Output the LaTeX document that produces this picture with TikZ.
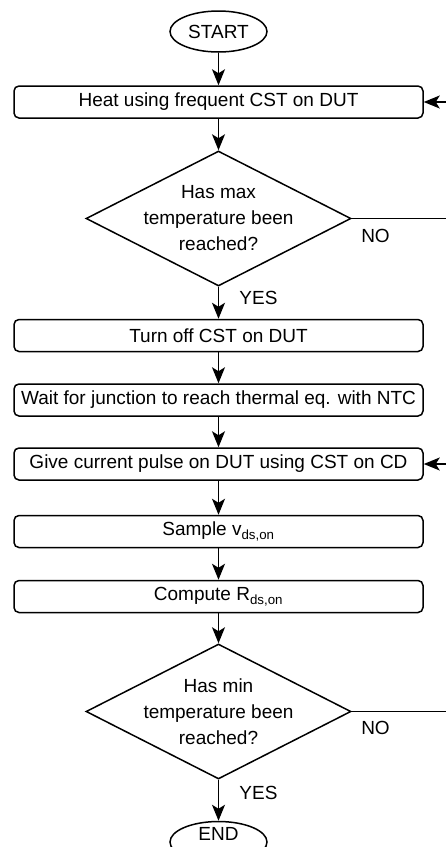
\documentclass[tikz,border=0pt]{standalone}
\usepackage{fontspec}
\setmainfont{Liberation Sans}
\usetikzlibrary{shapes.geometric,arrows.meta}
\begin{document}
\begin{tikzpicture}[x=1pt,y=-1pt,
  every node/.style={font=\fontsize{19}{26}\selectfont},
  line width=1.5pt,
  term/.style={draw,ellipse,minimum width=97pt,minimum height=41pt,inner sep=0pt},
  proc/.style={draw,rectangle,rounded corners=5pt,minimum width=409pt,minimum height=32pt,inner sep=0pt},
  dec/.style={draw,diamond,minimum width=265pt,minimum height=135pt,inner sep=0pt},
  lbl/.style={inner sep=0pt},
  flow/.style={-{Stealth[length=16pt,width=13pt,inset=4pt]}}]
\useasboundingbox (0,0) rectangle (446,847);
\clip (0,0) rectangle (446,847);
\fill[white] (0,0) rectangle (446,847);
\node[term] (start) at (218.5,31.5) {START};
\node[proc] (heat) at (218.5,102) {Heat using frequent CST on DUT};
\node[dec,label={[align=center,inner sep=0pt]center:Has max\\temperature been\\reached?}] (d1) at (218.5,218.5) {};
\node[proc] (off) at (218.5,335.5) {Turn off CST on DUT};
\node[proc] (wait) at (218.5,400) {Wait for junction to reach thermal eq. with NTC};
\node[proc] (pulse) at (218.5,464) {Give current pulse on DUT using CST on CD};
\node[proc] (sample) at (218.5,531.5) {Sample v\textsubscript{ds,on}};
\node[proc] (comp) at (218.5,596.5) {Compute R\textsubscript{ds,on}};
\node[dec,label={[align=center,inner sep=0pt]center:Has min\\temperature been\\reached?}] (d2) at (218.5,711.5) {};
\node[term,label={[inner sep=0pt,yshift=8.5pt]center:END}] (end) at (218.5,842) {};
\node[lbl] (no1) at (375.5,236) {NO};
\node[lbl] (yes1) at (258.5,298) {YES};
\node[lbl] (no2) at (375.5,728) {NO};
\node[lbl] (yes2) at (258.5,793) {YES};
\coordinate (r1a) at (470,218.5);
\coordinate (r1b) at (470,102);
\coordinate (r2a) at (470,711.5);
\coordinate (r2b) at (470,464);
\draw[flow] (start) -- (heat);
\draw[flow] (heat) -- (d1);
\draw[flow] (d1) -- (off);
\draw[flow] (off) -- (wait);
\draw[flow] (wait) -- (pulse);
\draw[flow] (pulse) -- (sample);
\draw[flow] (sample) -- (comp);
\draw[flow] (comp) -- (d2);
\draw[flow] (d2) -- (end);
\draw[flow] (d1.east) -- (r1a) -- (r1b) -- (heat.east);
\draw[flow] (d2.east) -- (r2a) -- (r2b) -- (pulse.east);
\end{tikzpicture}
\end{document}
